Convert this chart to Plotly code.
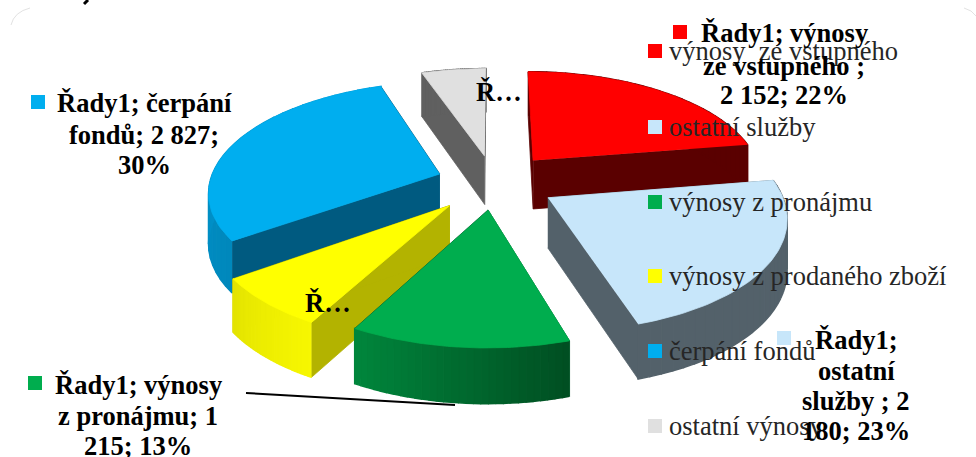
import numpy as np
import plotly.graph_objects as go

# ---- data ----
categories = ["výnosy  ze vstupného", "ostatní služby", "výnosy z pronájmu",
              "výnosy z prodaného zboží", "čerpání fondů", "ostatní výnosy"]
values = [2152, 2180, 1215, 690, 2827, 510]
top_colors = ["#FF0000", "#C7E6FA", "#00AD4E", "#FFFF00", "#00AEEF", "#E0E0E0"]
radial_colors = ["#5A0000", "#53616A", "#005A2A", "#B3B300", "#005A80", "#606060"]
arc_colors_a = ["#5A0000", "#53616A", "#00863C", "#E4E400", "#00A0DC", "#606060"]
arc_colors_b = ["#5A0000", "#53616A", "#004F22", "#F7F700", "#0088BC", "#606060"]
pulls = [0.27, 0.27, 0.25, 0.28, 0.25, 0.25]
label_lines = [
    ["Řady1; výnosy", "ze vstupného ;", "2 152; 22%"],
    ["Řady1;", "ostatní", "služby ; 2", "180; 23%"],
    ["Řady1; výnosy", "z pronájmu; 1", "215; 13%"],
    ["Ř…"],
    ["Řady1; čerpání", "fondů; 2 827;", "30%"],
    ["Ř…"],
]
label_x = [784, 856, 138, 328, 144, 499]
label_y = [[33, 66, 95], [340, 371, 401, 431], [385, 416, 446], [303], [103, 135, 165], [92]]
key_xy = [(680, 32), (784, 338), (35, 383), None, (38, 102), None]
legend_y = [51, 127, 202, 276, 351, 426]
draw_order = [5, 0, 4, 1, 3, 2]

# ---- projection of the tilted pie ----
CX, CY, A, B, K = 494, 182, 230, 108, 0.15


def project(X, Y, z=0.0):
    den = 1 + K * Y
    sx = CX + A * X / den
    sy = CY - B * Y / den + z * (49.5 - 5 * Y)
    return sx, sy


def lerp_hex(c1, c2, t):
    a = [int(c1[i:i + 2], 16) for i in (1, 3, 5)]
    b = [int(c2[i:i + 2], 16) for i in (1, 3, 5)]
    return "#%02X%02X%02X" % tuple(round(u + (v - u) * t) for u, v in zip(a, b))


fig = go.Figure()


def poly(xs, ys, color, name=None, width=0.8):
    fig.add_trace(go.Scatter(
        x=list(xs), y=list(ys), mode="lines", fill="toself", fillcolor=color,
        line=dict(color=color, width=width), hoverinfo="skip", showlegend=False, name=name))


fractions = np.array(values) / sum(values)
edges = np.concatenate([[0], np.cumsum(fractions)]) * 2 * np.pi

for i in draw_order:
    t0, t1 = edges[i], edges[i + 1]
    mid = (t0 + t1) / 2
    ax, ay = pulls[i] * np.sin(mid), pulls[i] * np.cos(mid)
    th = np.linspace(t0, t1, 61)
    ox, oy = ax + np.sin(th), ay + np.cos(th)
    # radial walls
    for t in (t0, t1):
        ex, ey = ax + np.sin(t), ay + np.cos(t)
        p = [project(ax, ay), project(ex, ey), project(ex, ey, 1), project(ax, ay, 1)]
        poly([q[0] for q in p], [q[1] for q in p], radial_colors[i])
    # outer curved wall, shaded in small steps
    n = 30
    idx = np.linspace(0, 60, n + 1).astype(int)
    for j in range(n):
        seg = range(idx[j], idx[j + 1] + 1)
        top = [project(ox[s], oy[s]) for s in seg]
        low = [project(ox[s], oy[s], 1) for s in reversed(seg)]
        pts = top + low
        poly([q[0] for q in pts], [q[1] for q in pts],
             lerp_hex(arc_colors_b[i], arc_colors_a[i], j / (n - 1)), width=1.5)
    # top face
    pts = [project(ax, ay)] + [project(u, v) for u, v in zip(ox, oy)]
    poly([q[0] for q in pts], [q[1] for q in pts], top_colors[i], categories[i])

SERIF = "Liberation Serif"
anns, shapes = [], []


def key(cx, cy, color):
    shapes.append(dict(type="rect", xref="x", yref="y", x0=cx - 7, x1=cx + 7,
                       y0=cy - 7, y1=cy + 7, fillcolor=color, line=dict(width=0)))


for cat, col, y in zip(categories, top_colors, legend_y):
    key(655, y, col)
    anns.append(dict(x=667, y=y, xref="x", yref="y", text=cat.replace("  ", "\u00a0\u00a0"),
                     showarrow=False, xanchor="left", yanchor="middle",
                     font=dict(family=SERIF, size=26.5, color="#262626")))

for lines, x, ys, kxy, col in zip(label_lines, label_x, label_y, key_xy, top_colors):
    for line, y in zip(lines, ys):
        anns.append(dict(x=x, y=y, xref="x", yref="y", text="<b>%s</b>" % line,
                         showarrow=False, xanchor="center", yanchor="middle",
                         font=dict(family=SERIF, size=26.5, color="#000000")))
    if kxy:
        key(kxy[0], kxy[1], col)

shapes.append(dict(type="line", xref="x", yref="y", x0=246, y0=393, x1=455, y1=405,
                   line=dict(color="#000000", width=2)))
# faint rounded frame corners and the cropped stroke at the top edge
shapes.append(dict(type="path", xref="x", yref="y", path="M 11 25 Q 14 12 30 8",
                   line=dict(color="#E2E2E2", width=1)))
shapes.append(dict(type="path", xref="x", yref="y", path="M 964 8 Q 972 10 976 16",
                   line=dict(color="#E2E2E2", width=1)))
shapes.append(dict(type="line", xref="x", yref="y", x0=88, y0=0, x1=84, y1=4,
                   line=dict(color="#000000", width=3)))

fig.update_layout(
    width=976, height=457, margin=dict(l=0, r=0, t=0, b=0),
    paper_bgcolor="#FFFFFF", plot_bgcolor="#FFFFFF", showlegend=False,
    xaxis=dict(range=[0, 976], visible=False, fixedrange=True),
    yaxis=dict(range=[457, 0], visible=False, fixedrange=True),
    annotations=anns, shapes=shapes,
)
fig.write_html("out.html", config={"displayModeBar": False},
               post_script="document.body.style.margin='0';document.body.style.overflow='hidden';")
